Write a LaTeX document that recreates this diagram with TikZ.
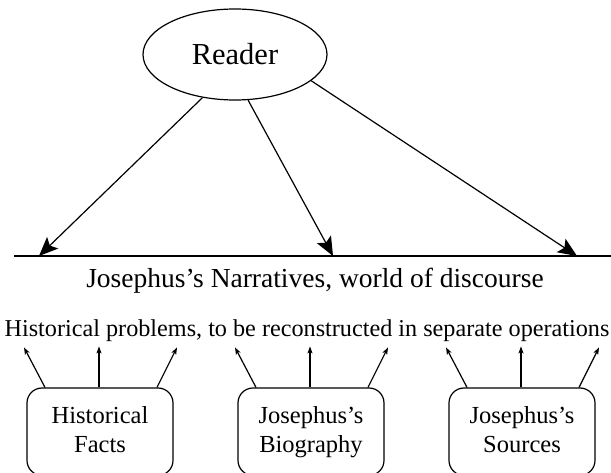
\documentclass[tikz,border=0pt]{standalone}
\usepackage{fontspec}
\setmainfont{Liberation Serif}
\usetikzlibrary{arrows.meta,calc,shapes.geometric}
\begin{document}
\begin{tikzpicture}[x=1pt,y=-1pt,
  bigarrow/.style={line width=1.2pt,-{Stealth[length=19pt,width=16pt,inset=4pt]}},
  smallarrow/.style={line width=1.2pt,-{Stealth[length=7pt,width=5pt,inset=1.5pt]}},
  srcbox/.style={draw,line width=1.2pt,rounded corners=15pt,minimum width=146pt,minimum height=87.4pt,inner sep=0pt,align=center,font=\fontsize{24.5}{29}\selectfont},
  readernode/.style={draw,ellipse,line width=1.2pt,minimum width=184pt,minimum height=91pt,inner sep=0pt,font=\fontsize{30.5}{36}\selectfont}
]
\useasboundingbox (0,0) rectangle (611,473);
\clip (0,0) rectangle (611,473);
% reader
\node[readernode] (reader) at (235,54.5) {Reader};
% discourse line
\coordinate (lineL) at (14,256);
\coordinate (lineR) at (611,256);
\draw[line width=1.8pt] (lineL) -- (lineR);
\coordinate (t1) at (39,256);
\coordinate (t2) at (333,256);
\coordinate (t3) at (577,256);
\draw[bigarrow] (reader.-127) -- (t1);
\draw[bigarrow] (reader.-74) -- (t2);
\draw[bigarrow] (reader.-19) -- (t3);
% texts
\node[anchor=base,inner sep=0pt,font=\fontsize{27.5}{33}\selectfont] (narr) at (315,288) {Josephus’s Narratives, world of discourse};
\node[anchor=base,inner sep=0pt,font=\fontsize{24.2}{29}\selectfont] (hist) at (307,337) {Historical problems, to be reconstructed in separate operations};
% boxes
\node[srcbox] (b1) at (100,431.7) {\strut Historical\\\strut Facts};
\node[srcbox] (b2) at (311,431.7) {\strut Josephus’s\\\strut Biography};
\node[srcbox] (b3) at (522,431.7) {\strut Josephus’s\\\strut Sources};
\foreach \b in {b1,b2,b3}{
  \coordinate (\b l) at ($(\b.north)+(-76,-40)$);
  \coordinate (\b m) at ($(\b.north)+(-1,-41)$);
  \coordinate (\b r) at ($(\b.north)+(77,-40)$);
  \draw[smallarrow] ($(\b.north)+(-55,0)$) -- (\b l);
  \draw[smallarrow] ($(\b.north)+(-1,0)$) -- (\b m);
  \draw[smallarrow] ($(\b.north)+(57,0)$) -- (\b r);
}
\end{tikzpicture}
\end{document}
